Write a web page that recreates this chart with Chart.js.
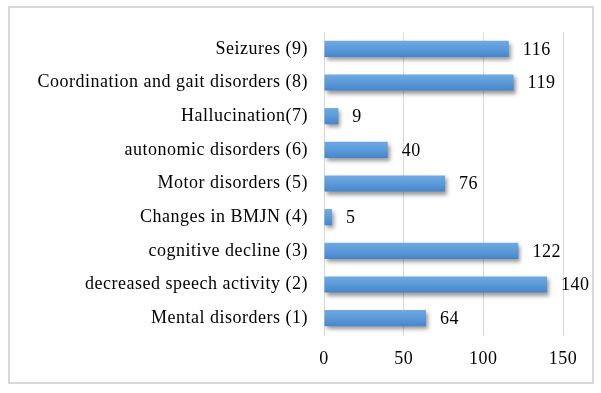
<!DOCTYPE html>
<html>
<head>
<meta charset="utf-8">
<script src="https://cdn.jsdelivr.net/npm/chart.js@4"></script>
<style>
    html, body { margin: 0; padding: 0; background: #fff; }
    #wrap { position: relative; width: 601px; height: 393px; }
    #frame { position: absolute; left: 8px; top: 6px; width: 582px; height: 374px; border: 2px solid #d9d9d9; }
    canvas { position: absolute; left: 0; top: 0; }
</style>
</head>
<body>
<div id="wrap">
    <div id="frame"></div>
    <canvas id="chartSymptoms" width="601" height="393"></canvas>
</div>
<script>
// Sintomas (de arriba hacia abajo)
const categorias = [
    'Seizures (9)',
    'Coordination and gait disorders (8)',
    'Hallucination(7)',
    'autonomic disorders (6)',
    'Motor disorders (5)',
    'Changes in BMJN (4)',
    'cognitive decline (3)',
    'decreased speech activity (2)',
    'Mental disorders (1)'
];
const valores = [116, 119, 9, 40, 76, 5, 122, 140, 64];
const ticksX = [0, 50, 100, 150];

const fuente = "'Liberation Serif', 'Times New Roman', serif";

// texto un poco mas ancho, como en la imagen original
const espaciado = {
    id: 'espaciado',
    beforeDraw(chart) {
        chart.ctx.letterSpacing = '0.5px';
    }
};

// sombra debajo de las barras
const sombraBarras = {
    id: 'sombraBarras',
    beforeDatasetsDraw(chart) {
        const ctx = chart.ctx;
        ctx.save();
        ctx.shadowColor = 'rgba(0, 0, 0, 0.4)';
        ctx.shadowBlur = 4;
        ctx.shadowOffsetX = 2;
        ctx.shadowOffsetY = 3;
    },
    afterDatasetsDraw(chart) {
        chart.ctx.restore();
    }
};

// etiquetas con el valor a la derecha de cada barra
const etiquetasValor = {
    id: 'etiquetasValor',
    afterDraw(chart) {
        const ctx = chart.ctx;
        const meta = chart.getDatasetMeta(0);
        ctx.save();
        ctx.font = '18px ' + fuente;
        ctx.fillStyle = '#000';
        ctx.textAlign = 'left';
        ctx.textBaseline = 'middle';
        meta.data.forEach((bar, i) => {
            ctx.fillText(String(valores[i]), bar.x + 14, bar.y + 1);
        });
        ctx.restore();
    }
};

const ctx = document.getElementById('chartSymptoms').getContext('2d');
const chart = new Chart(ctx, {
    type: 'bar',
    data: {
        labels: categorias,
        datasets: [{
            data: valores,
            backgroundColor: (c) => {
                const area = c.chart.chartArea;
                if (!area) return '#5b9bd5';
                const y = c.chart.scales.y.getPixelForValue(c.dataIndex);
                const g = c.chart.ctx.createLinearGradient(0, y - 8, 0, y + 8);
                g.addColorStop(0, '#6fa9e3');
                g.addColorStop(0.5, '#5b9bd8');
                g.addColorStop(1, '#4685cc');
                return g;
            },
            borderWidth: 0,
            categoryPercentage: 1,
            barPercentage: 0.48
        }]
    },
    plugins: [espaciado, sombraBarras, etiquetasValor],
    options: {
        indexAxis: 'y',
        responsive: false,
        animation: false,
        layout: {
            padding: { top: 32, right: 38, left: 0, bottom: 0 }
        },
        plugins: {
            legend: { display: false },
            tooltip: { enabled: false },
            title: { display: false }
        },
        scales: {
            x: {
                min: 0,
                max: 150,
                afterBuildTicks: (scale) => {
                    scale.ticks = ticksX.map(v => ({ value: v }));
                },
                afterFit: (scale) => { scale.height = 58; },
                grid: { color: '#d9d9d9', lineWidth: 1, drawTicks: false },
                border: { display: false },
                ticks: {
                    color: '#000',
                    padding: 13,
                    font: { family: fuente, size: 18 }
                }
            },
            y: {
                afterFit: (scale) => { scale.width = 324; },
                grid: { display: false, drawTicks: false },
                border: { display: true, color: '#d9d9d9', width: 1 },
                ticks: {
                    color: '#000',
                    padding: 16,
                    font: { family: fuente, size: 18 }
                }
            }
        }
    }
});
</script>
</body>
</html>
